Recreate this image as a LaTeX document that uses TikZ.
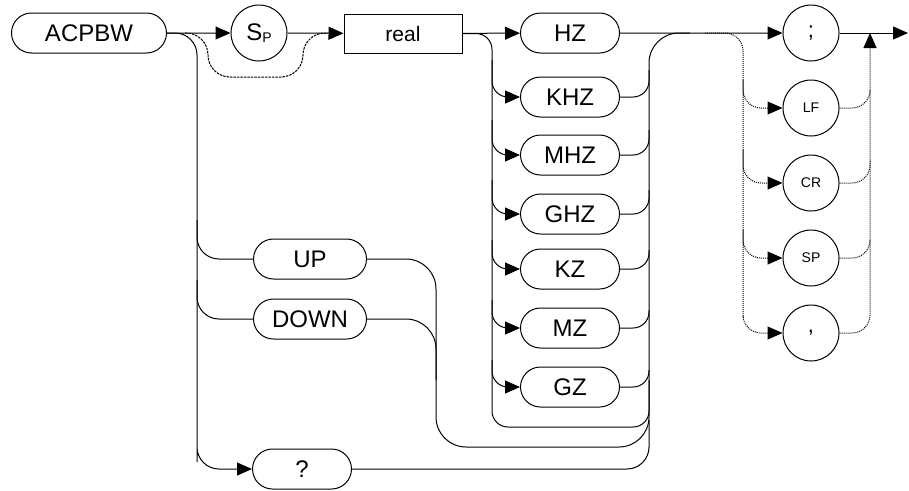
\documentclass[tikz,border=0pt]{standalone}
\usepackage{fontspec}
\setmainfont{Liberation Sans}
\usetikzlibrary{shapes.misc,arrows.meta,positioning}
\tikzset{
  kwnode/.style = {draw=black, rounded rectangle, line width=1pt, minimum width=99pt, minimum height=40pt, inner sep=0pt, font=\fontsize{24}{24}\selectfont},
  termnode/.style = {draw=black, circle, line width=1pt, minimum size=56pt, inner sep=0pt, font=\fontsize{14}{14}\selectfont},
  parnode/.style = {draw=black, rectangle, line width=1pt, minimum width=118pt, minimum height=39pt, inner sep=0pt, font=\fontsize{21}{21}\selectfont},
  rail/.style = {draw=black, line width=1pt, rounded corners=22pt},
  optrail/.style = {rail, dash pattern=on 1pt off 1pt},
  skiprail/.style = {rail, dash pattern=on 2.5pt off 1pt},
  tip/.style = {-{Triangle[length=15pt,width=13pt]}},
}
\begin{document}
\begin{tikzpicture}[x=1pt,y=-1pt]
\useasboundingbox (0,0) rectangle (909,490);

% keyword, separator and parameter
\node [kwnode, minimum width=155pt] (acpbw) at (89,33) {ACPBW};
\node [termnode, font=\fontsize{24}{24}\selectfont] (sp) at (259,33) {S\raisebox{-2pt}{\fontsize{14}{14}\selectfont P}};
\node [parnode] (real) at (403,33.5) {real};

% units
\node [kwnode] (hz)  at (570,33)  {HZ};
\node [kwnode] (khz) at (570,97)  {KHZ};
\node [kwnode] (mhz) at (570,155) {MHZ};
\node [kwnode] (ghz) at (570,214) {GHZ};
\node [kwnode] (kz)  at (570,269) {KZ};
\node [kwnode] (mz)  at (570,328) {MZ};
\node [kwnode] (gz)  at (570,387) {GZ};

% step and query
\node [kwnode, minimum width=113pt] (up)   at (310,259) {UP};
\node [kwnode, minimum width=113pt] (down) at (310,319) {DOWN};
\node [kwnode] (qm) at (302,469) {?};

% terminators
\node [termnode, font=\fontsize{22}{22}\selectfont] (semi) at (811,33) {;};
\node [termnode] (lf)    at (811,108) {LF};
\node [termnode] (cr)    at (811,183) {CR};
\node [termnode] (spc)   at (811,258) {SP};
\node [termnode, font=\fontsize{22}{22}\selectfont] (comma) at (811,333) {,};
\coordinate (out) at (908,33);

% main line
\draw [rail, tip] (acpbw) -- (sp);
\draw [rail, tip] (sp) -- (real);
\draw [skiprail] (acpbw.east) ++(18,0) -| (208,77) -| (303,33) -- (328,33);

% left trunk
\draw [rail, tip] (acpbw.east) -| (197,440) |- (qm.west);
\draw [rail] (197,220) |- (up.west);
\draw [rail] (197,280) |- (down.west);
\draw [rail, rounded corners=30pt] (up.east) -| (436,447) -| (649,33) -- (690,33);
\draw [rail, rounded corners=30pt] (down.east) -| (436,380);
\draw [rail] (qm.east) -| (649,420);

% unit trunk
\draw [rail, tip] (real) -- (hz);
\draw [rail, rounded corners=16pt] (real.east) -| (492,427) -| (649,380);
\draw [rail, tip, rounded corners=16pt] (492,60)  |- (khz.west);
\draw [rail, tip, rounded corners=16pt] (492,120) |- (mhz.west);
\draw [rail, tip, rounded corners=16pt] (492,180) |- (ghz.west);
\draw [rail, tip, rounded corners=16pt] (492,240) |- (kz.west);
\draw [rail, tip, rounded corners=16pt] (492,300) |- (mz.west);
\draw [rail, tip, rounded corners=16pt] (492,360) |- (gz.west);
\draw [rail, rounded corners=16pt] (khz.east) -| (649,70);
\draw [rail, rounded corners=16pt] (mhz.east) -| (649,130);
\draw [rail, rounded corners=16pt] (ghz.east) -| (649,190);
\draw [rail, rounded corners=16pt] (kz.east)  -| (649,250);
\draw [rail, rounded corners=16pt] (mz.east)  -| (649,310);
\draw [rail, rounded corners=16pt] (gz.east)  -| (649,370);
\draw [rail, tip] (hz) -- (semi);

% optional terminators
\draw [optrail, tip, rounded corners=18pt] (705,33) -| (743,300) |- (comma.west);
\draw [optrail, tip, rounded corners=18pt] (743,80)  |- (lf.west);
\draw [optrail, tip, rounded corners=18pt] (743,150) |- (cr.west);
\draw [optrail, tip, rounded corners=18pt] (743,230) |- (spc.west);
\draw [optrail, rounded corners=18pt] (lf.east)  -| (870,90);
\draw [optrail, rounded corners=18pt] (cr.east)  -| (870,160);
\draw [optrail, rounded corners=18pt] (spc.east) -| (870,240);
\draw [optrail, tip, rounded corners=18pt] (comma.east) -| (870,33);
\draw [rail, tip] (semi) -- (out);
\end{tikzpicture}
\end{document}
